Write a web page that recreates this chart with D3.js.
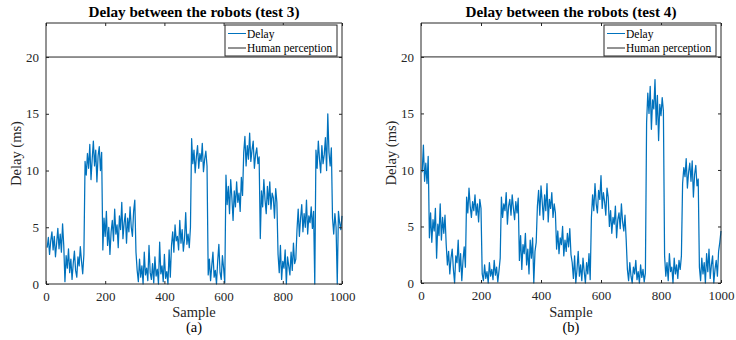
<!DOCTYPE html>
<html>
<head>
<meta charset="utf-8">
<script src="https://cdn.jsdelivr.net/npm/d3@7"></script>
<style>
  body { margin: 0; background: #fff; }
  svg { display: block; font-family: "Liberation Serif", "Times New Roman", serif; }
</style>
</head>
<body>
<div id="chart"></div>
<script>
// delay values (ms), one every 4 samples
const delayTest3 = [
  3.2, 4.1, 2.6, 3.8, 4.6, 3.0, 4.2, 2.4, 3.6, 4.9, 3.1, 4.4, 2.8, 5.3, 3.4,
  0.2, 2.5, 1.4, 3.1, 1.0, 2.2, 0.4, 1.8, 2.9, 1.2, 0.6, 2.4, 1.6, 3.3, 2.0, 0.9, 2.6,
  10.8, 9.6, 11.5, 10.2, 12.3, 9.2, 11.0, 12.6, 10.4, 11.8, 9.0, 11.3, 12.1, 10.0, 11.6,
  3.0, 5.8, 4.2, 6.4, 3.4, 5.0, 2.6, 4.6, 5.6, 3.8, 6.6, 4.4, 5.2, 3.2, 6.0, 4.8, 7.2, 4.0, 5.4, 6.2,
  3.6, 5.8, 4.6, 6.8, 5.0, 4.2, 6.4, 7.4, 2.8,
  1.2, 0.2, 2.2, 0.6, 1.6, 0.0, 2.8, 0.8, 1.4, 0.3, 3.4, 1.0, 0.4, 1.8, 0.1, 2.4, 0.7, 1.3, 0.0, 3.7,
  0.9, 1.6, 0.2, 2.6, 0.5, 1.1, 0.0, 3.0, 0.6,
  3.4, 4.6, 2.8, 5.2, 3.8, 4.2, 3.0, 5.6, 3.6, 4.8, 2.9, 4.0, 6.3, 3.5, 4.4, 3.2, 5.0,
  12.8, 10.6, 11.8, 9.8, 11.2, 12.2, 10.2, 11.5, 10.8, 12.4, 9.9, 11.0, 11.7, 10.4,
  0.8, 2.2, 0.3, 1.6, 2.8, 0.6, 1.2, 0.0, 2.0, 3.5, 1.0, 0.4, 2.5, 1.4, 0.1,
  9.6, 7.0, 8.6, 6.2, 9.2, 7.6, 5.6, 8.2, 6.8, 9.0, 7.2, 8.0, 6.4, 9.4, 7.8,
  11.6, 13.0, 10.4, 12.2, 11.0, 13.3, 10.8, 11.8, 12.6, 10.2, 11.4, 12.0, 10.6, 11.2,
  4.0, 8.2, 6.8, 9.2, 7.4, 6.2, 8.6, 7.0, 9.0, 6.6, 8.0, 7.6, 5.8, 8.4, 7.2,
  2.6, 1.0, 3.4, 0.4, 2.0, 1.4, 3.0, 0.0, 2.4, 1.6, 0.8, 2.8, 1.2, 3.6, 1.8, 2.2,
  4.8, 6.6, 4.2, 5.8, 7.0, 4.6, 6.2, 5.0, 7.4, 4.4, 6.0, 5.4, 6.8, 4.9, 6.4,
  0.0, 11.8, 10.2, 12.6, 11.0, 9.8, 12.2, 10.6, 11.4, 12.9, 10.0, 15.0, 11.6, 10.4, 12.0,
  5.8, 4.4, 6.2, 5.0, 0.0, 6.4, 5.4, 4.8, 6.0
];
const delayTest4 = [
  9.8, 12.2, 9.0, 10.6, 8.8, 11.2,
  4.0, 6.2, 3.6, 5.6, 4.6, 6.6, 2.2, 5.2, 4.2, 7.0, 3.8, 5.8, 4.4, 6.0,
  3.4, 1.6, 2.8, 0.8, 2.2, 3.0, 1.2, 0.0, 2.4, 1.8, 3.8, 1.0, 2.6, 0.2, 2.0, 3.2, 1.4,
  7.6, 6.2, 8.4, 6.8, 5.8, 7.2, 6.4, 7.8, 6.0, 7.0, 5.4, 7.4, 6.6,
  0.8, 0.2, 1.6, 0.4, 1.0, 0.0, 1.8, 0.6, 1.2, 0.3, 2.0, 0.7, 1.4, 0.1, 1.1, 2.2,
  7.6, 5.8, 7.0, 6.4, 8.0, 5.2, 6.8, 7.4, 6.0, 7.8, 6.6, 5.6, 7.2, 6.2, 7.5,
  2.0, 4.2, 1.2, 3.4, 2.6, 4.4, 1.6, 3.0, 0.8, 3.8, 2.2, 4.0, 0.0, 2.8, 3.6,
  6.8, 8.2, 6.0, 8.6, 7.2, 5.6, 7.8, 6.4, 8.8, 5.4, 7.4, 6.6, 8.0, 5.8, 7.0, 6.2,
  3.0, 4.6, 2.6, 4.0, 3.4, 5.0, 2.4, 3.8, 2.8, 4.4, 3.2, 4.8, 2.5,
  1.8, 0.4, 2.4, 0.0, 1.2, 2.8, 0.6, 1.6, 0.2, 2.2, 1.0, 0.0, 1.8, 0.8, 2.6, 0.3,
  5.8, 7.8, 6.4, 8.8, 7.0, 6.2, 8.2, 7.4, 9.5, 6.6, 8.0, 7.2, 6.0, 8.4, 7.6,
  5.0, 6.4, 4.4, 5.8, 5.2, 6.8, 4.0, 5.6, 6.2, 4.8, 7.0, 5.4, 4.6, 6.0, 3.8,
  1.2, 0.2, 1.8, 0.6, 0.0, 1.4, 0.8, 2.0, 0.3, 1.0, 0.0, 1.6, 0.5, 1.2, 0.1, 0.9,
  14.2, 16.8, 15.0, 17.4, 13.6, 16.2, 15.4, 18.0, 14.0, 16.6, 12.6, 15.8, 14.8, 16.4, 15.2,
  2.4, 0.6, 1.8, 0.2, 2.6, 1.0, 1.4, 0.0, 2.2, 0.8, 1.6, 0.4, 2.0, 1.2, 2.4,
  8.8, 10.2, 9.4, 11.0, 8.4, 9.8, 10.6, 9.0, 10.8, 7.6, 9.6, 10.4, 8.6, 9.2,
  1.4, 0.2, 2.2, 0.8, 1.8, 0.0, 2.6, 1.0, 3.0, 0.4, 1.6, 2.4, 0.0, 1.2, 2.0, 0.6, 2.8,
  3.6, 4.6
];
const sampleStep = 4;
const perceptionLimit = 20;
const xTicks = [0, 200, 400, 600, 800, 1000];
const yTicks = [0, 5, 10, 15, 20];
const titles = ["Delay between the robots (test 3)", "Delay between the robots (test 4)"];
const captions = ["(a)", "(b)"];
const legendLabels = ["Delay", "Human perception"];

const W = 736, H = 340;
const blue = "#0072BD", axisColor = "#262626";
const serif = "Liberation Serif";

const svg = d3.select("#chart").append("svg")
  .attr("width", W).attr("height", H);

const panels = [
  { data: delayTest3, left: 46, right: 342, top: 23, bottom: 284, legendX: 225 },
  { data: delayTest4, left: 421, right: 721, top: 23, bottom: 283, legendX: 604 }
];

panels.forEach((p, k) => {
  const x = d3.scaleLinear().domain([0, 1000]).range([p.left, p.right]);
  const y = d3.scaleLinear().domain([0, 23]).range([p.bottom, p.top]);
  const g = svg.append("g");
  const cx = (p.left + p.right) / 2;

  // delay trace
  const pts = p.data.map((v, i) => [(i + 1) * sampleStep, v]);
  g.append("path")
    .datum(pts)
    .attr("fill", "none")
    .attr("stroke", blue)
    .attr("stroke-width", 1.25)
    .attr("stroke-linejoin", "round")
    .attr("d", d3.line().x(d => x(d[0])).y(d => y(d[1])));

  // human perception threshold
  g.append("line")
    .attr("x1", x(0)).attr("x2", x(1000))
    .attr("y1", y(perceptionLimit)).attr("y2", y(perceptionLimit))
    .attr("stroke", axisColor).attr("stroke-width", 1);

  // axes, MATLAB style: ticks inward on all four sides
  const tick = 3;
  const axB = g.append("g").attr("transform", "translate(0," + p.bottom + ")")
    .call(d3.axisBottom(x).tickValues(xTicks).tickSize(-tick).tickPadding(8).tickFormat(d3.format("d")));
  const axT = g.append("g").attr("transform", "translate(0," + p.top + ")")
    .call(d3.axisTop(x).tickValues(xTicks).tickSize(-tick).tickFormat(""));
  const axL = g.append("g").attr("transform", "translate(" + p.left + ",0)")
    .call(d3.axisLeft(y).tickValues(yTicks).tickSize(-tick).tickPadding(7));
  const axR = g.append("g").attr("transform", "translate(" + p.right + ",0)")
    .call(d3.axisRight(y).tickValues(yTicks).tickSize(-tick).tickFormat(""));
  [axB, axT, axL, axR].forEach(a => {
    a.attr("font-family", serif).attr("font-size", 13);
    a.select(".domain").attr("stroke", axisColor).attr("stroke-width", 1)
      .attr("d", a === axB || a === axT
        ? "M" + p.left + ",0H" + p.right
        : "M0," + p.top + "V" + p.bottom);
    a.selectAll(".tick line").attr("stroke", axisColor);
    a.selectAll(".tick text").attr("fill", axisColor);
  });

  // title and labels
  g.append("text")
    .attr("x", cx).attr("y", 17)
    .attr("text-anchor", "middle")
    .style("font-weight", "bold").style("font-size", "15.2px")
    .attr("fill", "#000")
    .text(titles[k]);
  g.append("text")
    .attr("x", cx).attr("y", 317)
    .attr("text-anchor", "middle")
    .style("font-size", "14.5px").attr("fill", axisColor)
    .text("Sample");
  g.append("text")
    .attr("x", cx).attr("y", 332)
    .attr("text-anchor", "middle")
    .style("font-size", "14.5px").attr("fill", "#000")
    .text(captions[k]);
  g.append("text")
    .attr("transform", "translate(" + (p.left - 25) + "," + ((p.top + p.bottom) / 2) + ") rotate(-90)")
    .attr("text-anchor", "middle")
    .style("font-size", "14.5px").attr("fill", axisColor)
    .text("Delay (ms)");

  // legend
  const lg = g.append("g").attr("transform", "translate(" + p.legendX + "," + 25 + ")");
  lg.append("rect")
    .attr("width", 112).attr("height", 31)
    .attr("fill", "#fff").attr("stroke", axisColor).attr("stroke-width", 1);
  legendLabels.forEach((lab, i) => {
    const yy = 8.5 + i * 14.5;
    lg.append("line")
      .attr("x1", 3).attr("x2", 21).attr("y1", yy).attr("y2", yy)
      .attr("stroke", i === 0 ? blue : axisColor).attr("stroke-width", 1);
    lg.append("text")
      .attr("x", 22).attr("y", yy + 4)
      .style("font-size", "11.5px").attr("fill", "#000")
      .text(lab);
  });
});
</script>
</body>
</html>
